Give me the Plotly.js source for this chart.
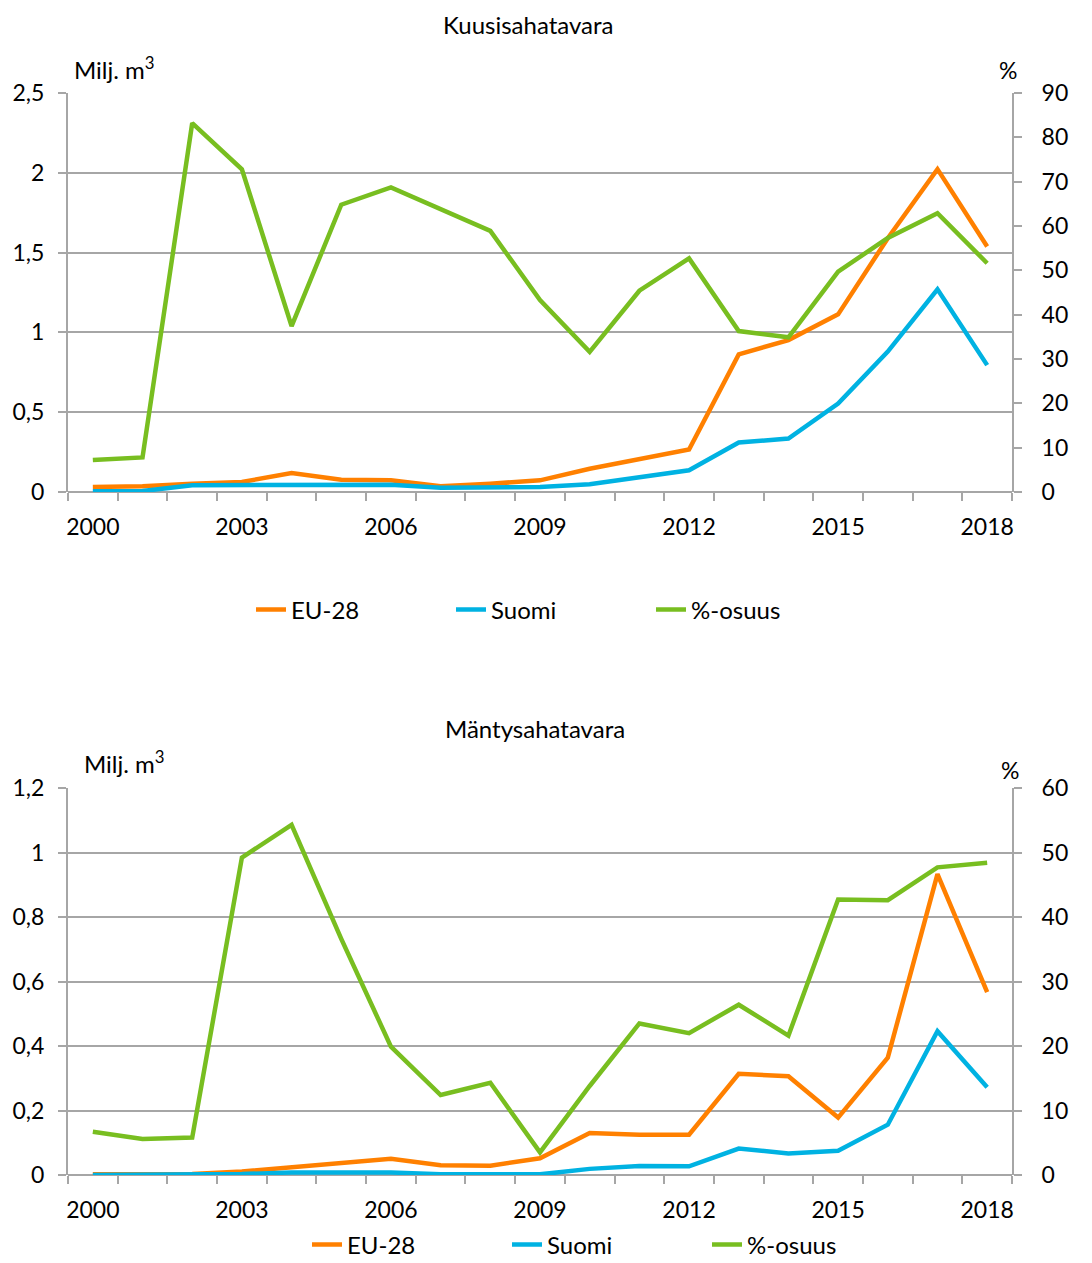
<!DOCTYPE html>
<html>
<head>
<meta charset="utf-8">
<script src="https://cdn.plot.ly/plotly-3.0.1.min.js"></script>
<style>html,body{margin:0;padding:0;background:#fff;}#chart{width:1092px;height:1263px;}</style>
</head>
<body>
<div id="chart"></div>
<script>
// ---- Data ----
const years = [2000,2001,2002,2003,2004,2005,2006,2007,2008,2009,2010,2011,2012,2013,2014,2015,2016,2017,2018];
const yearTicks = [2000,2003,2006,2009,2012,2015,2018];
const yearTickLabels = ["2000","2003","2006","2009","2012","2015","2018"];
const seriesNames = ["EU-28","Suomi","%-osuus"];

const kuusiTitle = "Kuusisahatavara";
const kuusiEU = [0.031,0.036,0.052,0.063,0.119,0.077,0.073,0.036,0.052,0.073,0.146,0.203,0.266,0.862,0.952,1.113,1.59,2.023,1.538];
const kuusiSuomi = [0.005,0.006,0.042,0.042,0.042,0.048,0.046,0.027,0.031,0.031,0.048,0.09,0.136,0.31,0.335,0.554,0.88,1.27,0.795];
const kuusiOsuus = [7.2,7.8,83.2,72.8,37.4,64.8,68.7,63.9,58.9,43.3,31.6,45.4,52.7,36.3,34.9,49.7,57.3,62.9,51.6];

const mantyTitle = "Mäntysahatavara";
const mantyEU = [0.002,0.002,0.003,0.011,0.025,0.036,0.05,0.03,0.029,0.052,0.13,0.125,0.125,0.314,0.306,0.178,0.364,0.933,0.567];
const mantySuomi = [0,0,0,0.003,0.008,0.008,0.008,0.002,0.001,0.002,0.019,0.028,0.027,0.082,0.067,0.075,0.156,0.446,0.272];
const mantyOsuus = [6.7,5.6,5.8,49.2,54.3,36.6,19.9,12.4,14.3,3.5,13.8,23.5,22.0,26.4,21.6,42.7,42.6,47.7,48.4];

const leftUnit = "Milj. m<sup>3</sup>";
const rightUnit = "%";

// ---- Styles ----
const W = 1092, H = 1263;
const FONT = "Lato, 'Open Sans', sans-serif";
const colors = ["#FF8000", "#00B2E2", "#78BE20"];
const grid = "#A6A6A6";
const px = v => v / W;
const py = v => (H - v) / H;

function line(x, y, name, color, xa, ya, legend) {
  return {x: x, y: y, name: name, type: "scatter", mode: "lines",
    line: {color: color, width: 4.5}, xaxis: xa, yaxis: ya,
    legend: legend, showlegend: true, hoverinfo: "skip"};
}

const traces = [
  line(years, kuusiEU, seriesNames[0], colors[0], "x", "y", "legend"),
  line(years, kuusiSuomi, seriesNames[1], colors[1], "x", "y", "legend"),
  line(years, kuusiOsuus, seriesNames[2], colors[2], "x", "y2", "legend"),
  line(years, mantyEU, seriesNames[0], colors[0], "x2", "y3", "legend2"),
  line(years, mantySuomi, seriesNames[1], colors[1], "x2", "y3", "legend2"),
  line(years, mantyOsuus, seriesNames[2], colors[2], "x2", "y4", "legend2")
];

const xDomain = [px(68), px(1012)];
function xAxis(anchor) {
  return {domain: xDomain, anchor: anchor, range: [years[0] - 0.5, years[years.length - 1] + 0.5],
    tickmode: "array", tickvals: yearTicks, ticktext: yearTickLabels, ticks: "",
    showgrid: false, zeroline: false, showline: false,
    minor: {ticks: "outside", ticklen: 8, tickwidth: 2, tickcolor: grid, tick0: years[0] - 0.5, dtick: 1, showgrid: false},
    tickfont: {family: FONT, size: 23, color: "#000"}, ticklabelstandoff: 19, fixedrange: true};
}
function yLeft(domain, anchor, max, dtick) {
  return {domain: domain, anchor: anchor, range: [0, max], dtick: dtick, tick0: 0,
    ticks: "outside", ticklen: 8, tickwidth: 2, tickcolor: grid,
    showgrid: true, gridcolor: grid, gridwidth: 2, zeroline: true, zerolinecolor: grid, zerolinewidth: 2,
    showline: true, linecolor: grid, linewidth: 2,
    tickfont: {family: FONT, size: 23, color: "#000"}, ticklabelstandoff: 9, fixedrange: true};
}
function yRight(over, anchor, max, dtick) {
  return {overlaying: over, anchor: anchor, side: "right", range: [0, max], dtick: dtick, tick0: 0,
    ticks: "outside", ticklen: 8, tickwidth: 2, tickcolor: grid,
    showgrid: false, zeroline: false, showline: true, linecolor: grid, linewidth: 2,
    tickfont: {family: FONT, size: 23, color: "#000"}, ticklabelstandoff: 15, fixedrange: true};
}

function ann(text, x, y, xanchor, size) {
  return {text: text, x: px(x), y: py(y), xref: "paper", yref: "paper", xanchor: xanchor, yanchor: "middle",
    showarrow: false, font: {family: FONT, size: size, color: "#000"}};
}

const legendBase = {orientation: "h", xanchor: "left", yanchor: "middle",
  font: {family: FONT, size: 24, color: "#000"}, entrywidth: 155, entrywidthmode: "pixels",
  bgcolor: "rgba(0,0,0,0)", itemclick: false, itemdoubleclick: false, traceorder: "normal"};

const layout = {
  width: W, height: H, autosize: false,
  margin: {l: 0, r: 0, t: 0, b: 0, pad: 0, autoexpand: false},
  paper_bgcolor: "#fff", plot_bgcolor: "rgba(0,0,0,0)",
  separators: ", ",
  font: {family: FONT, size: 23, color: "#000"},
  xaxis: xAxis("y"),
  yaxis: yLeft([py(492), py(93)], "x", 2.5, 0.5),
  yaxis2: yRight("y", "x", 90, 10),
  xaxis2: xAxis("y3"),
  yaxis3: yLeft([py(1175), py(788)], "x2", 1.2, 0.2),
  yaxis4: yRight("y3", "x2", 60, 10),
  legend: Object.assign({}, legendBase, {x: px(251), y: py(610)}),
  legend2: Object.assign({}, legendBase, {x: px(307), y: py(1245)}),
  annotations: [
    ann(kuusiTitle, 528, 25, "center", 24),
    ann(leftUnit, 72, 68, "left", 24),
    ann(rightUnit, 1019, 70, "right", 23),
    ann(mantyTitle, 535, 729, "center", 24),
    ann(leftUnit, 82, 762, "left", 24),
    ann(rightUnit, 1021, 770, "right", 23)
  ]
};

Plotly.newPlot("chart", traces, layout, {staticPlot: true, displayModeBar: false});
</script>
</body>
</html>
